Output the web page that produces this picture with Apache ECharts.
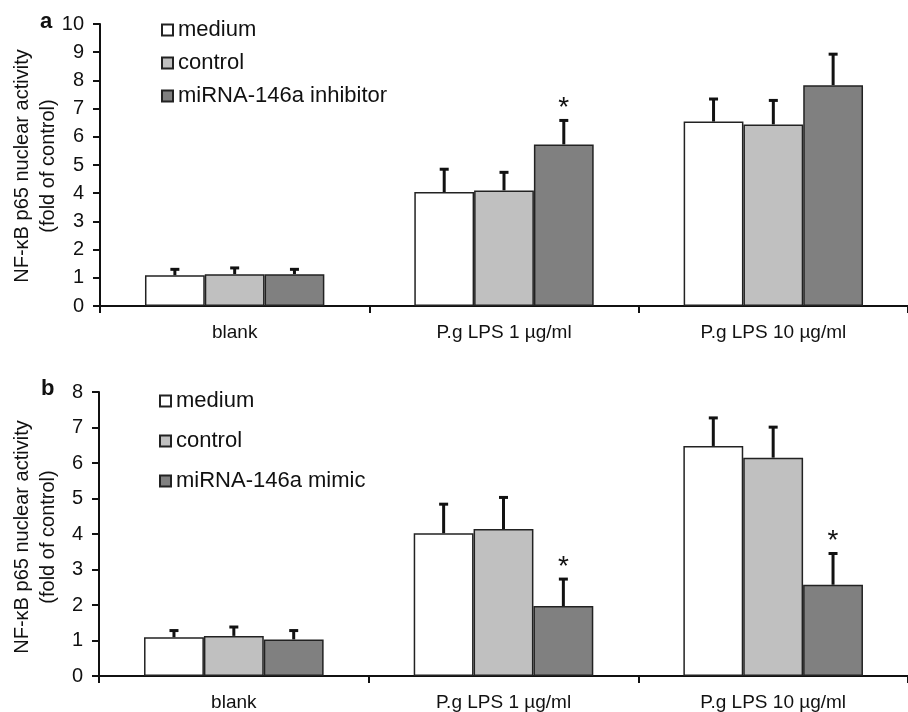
<!DOCTYPE html>
<html><head><meta charset="utf-8">
<script src="https://cdn.jsdelivr.net/npm/echarts@6/dist/echarts.min.js"></script>
<style>html,body{margin:0;padding:0;background:#fff}#c{width:908px;height:712px}</style>
</head><body><div id="c"></div>
<script>
const categories = ['blank', 'P.g LPS 1 µg/ml', 'P.g LPS 10 µg/ml'];
const seriesNamesA = ['medium', 'control', 'miRNA-146a inhibitor'];
const seriesNamesB = ['medium', 'control', 'miRNA-146a mimic'];

// Panel a
const mediumA = [1.09, 4.04, 6.54];
const mediumErrA = [0.21, 0.81, 0.80];
const controlA = [1.13, 4.10, 6.44];
const controlErrA = [0.22, 0.64, 0.85];
const inhibitorA = [1.13, 5.73, 7.83];
const inhibitorErrA = [0.17, 0.85, 1.10];
const inhibitorSigA = [0, 1, 0];

// Panel b
const mediumB = [1.09, 4.02, 6.48];
const mediumErrB = [0.19, 0.82, 0.79];
const controlB = [1.13, 4.14, 6.15];
const controlErrB = [0.25, 0.89, 0.86];
const mimicB = [1.03, 1.97, 2.57];
const mimicErrB = [0.25, 0.76, 0.88];
const mimicSigB = [0, 1, 1];

const FONT = 'Arial, "Liberation Sans", sans-serif';
const colors = ['#ffffff', '#c0c0c0', '#808080'];
const BARFRAC = 0.222;

function buildErr(vals, errs, sigs) {
  const out = [];
  for (let s = 0; s < vals.length; s++) {
    for (let c = 0; c < vals[s].length; c++) {
      out.push([c, s, vals[s][c], errs[s][c], sigs[s][c]]);
    }
  }
  return out;
}

function renderErr(params, api) {
  const c = api.value(0), s = api.value(1), v = api.value(2), e = api.value(3), sig = api.value(4);
  const base = api.coord([c, v]);
  const top = api.coord([c, v + e]);
  const bandW = api.size([1, 0])[0];
  const bw = bandW * BARFRAC;
  const x = base[0] + (s - 1) * bw;
  const children = [
    { type: 'line', shape: { x1: x, y1: base[1], x2: x, y2: top[1] }, style: { stroke: '#111', lineWidth: 3 } },
    { type: 'line', shape: { x1: x - 4.5, y1: top[1], x2: x + 4.5, y2: top[1] }, style: { stroke: '#111', lineWidth: 3 } }
  ];
  if (sig) {
    children.push({ type: 'text', style: { text: '*', x: x, y: top[1] - 12, align: 'center', verticalAlign: 'middle', font: '28px ' + FONT, fill: '#111' } });
  }
  return { type: 'group', children: children };
}

function xAxis(gi) {
  return {
    type: 'category', gridIndex: gi, data: categories,
    axisLine: { lineStyle: { color: '#111', width: 2 } },
    axisTick: { show: true, length: 7, lineStyle: { color: '#111', width: 2 } },
    axisLabel: { color: '#111', fontSize: 19, fontFamily: FONT, margin: 17 }
  };
}
function yAxis(gi, max) {
  return {
    type: 'value', gridIndex: gi, min: 0, max: max, interval: 1,
    splitLine: { show: false },
    axisLine: { show: true, lineStyle: { color: '#111', width: 2 } },
    axisTick: { show: true, length: 7, lineStyle: { color: '#111', width: 2 } },
    axisLabel: { color: '#111', fontSize: 20, fontFamily: FONT, margin: 16 }
  };
}
function bar(name, data, ci, gi) {
  return {
    type: 'bar', name: name, data: data, xAxisIndex: gi, yAxisIndex: gi,
    barWidth: (BARFRAC * 100) + '%', barGap: '0%',
    itemStyle: { color: colors[ci], borderColor: '#222', borderWidth: 1.5 },
    emphasis: { disabled: true }, z: 2
  };
}

const chart = echarts.init(document.getElementById('c'));
chart.setOption({
  animation: false,
  backgroundColor: '#fff',
  grid: [
    { left: 100, top: 24, bottom: 406, right: -9 },
    { left: 99, top: 392, bottom: 34, right: -9 }
  ],
  xAxis: [xAxis(0), xAxis(1)],
  yAxis: [yAxis(0, 10), yAxis(1, 8)],
  legend: [
    { data: seriesNamesA, orient: 'vertical', left: 156, top: 14, itemWidth: 11, itemHeight: 11, itemGap: 11, icon: 'rect',
      textStyle: { fontSize: 22, fontFamily: FONT, color: '#111' }, selectedMode: false },
    { data: seriesNamesB, orient: 'vertical', left: 154, top: 385, itemWidth: 11, itemHeight: 11, itemGap: 18, icon: 'rect',
      textStyle: { fontSize: 22, fontFamily: FONT, color: '#111' }, selectedMode: false }
  ],
  graphic: [
    { type: 'text', left: 40, top: 11, style: { text: 'a', font: 'bold 22px ' + FONT, fill: '#111' } },
    { type: 'text', left: 41, top: 378, style: { text: 'b', font: 'bold 22px ' + FONT, fill: '#111' } },
    { type: 'text', x: 22, y: 166, rotation: Math.PI / 2, style: { text: 'NF-κB p65 nuclear activity', font: '20px ' + FONT, fill: '#111', align: 'center', verticalAlign: 'middle' } },
    { type: 'text', x: 48, y: 166, rotation: Math.PI / 2, style: { text: '(fold of control)', font: '20px ' + FONT, fill: '#111', align: 'center', verticalAlign: 'middle' } },
    { type: 'text', x: 22, y: 537, rotation: Math.PI / 2, style: { text: 'NF-κB p65 nuclear activity', font: '20px ' + FONT, fill: '#111', align: 'center', verticalAlign: 'middle' } },
    { type: 'text', x: 48, y: 537, rotation: Math.PI / 2, style: { text: '(fold of control)', font: '20px ' + FONT, fill: '#111', align: 'center', verticalAlign: 'middle' } }
  ],
  series: [
    bar(seriesNamesA[0], mediumA, 0, 0),
    bar(seriesNamesA[1], controlA, 1, 0),
    bar(seriesNamesA[2], inhibitorA, 2, 0),
    bar(seriesNamesB[0], mediumB, 0, 1),
    bar(seriesNamesB[1], controlB, 1, 1),
    bar(seriesNamesB[2], mimicB, 2, 1),
    { type: 'custom', xAxisIndex: 0, yAxisIndex: 0, renderItem: renderErr, z: 1,
      data: buildErr([mediumA, controlA, inhibitorA], [mediumErrA, controlErrA, inhibitorErrA], [[0,0,0],[0,0,0], inhibitorSigA]) },
    { type: 'custom', xAxisIndex: 1, yAxisIndex: 1, renderItem: renderErr, z: 1,
      data: buildErr([mediumB, controlB, mimicB], [mediumErrB, controlErrB, mimicErrB], [[0,0,0],[0,0,0], mimicSigB]) }
  ]
});
</script></body></html>
